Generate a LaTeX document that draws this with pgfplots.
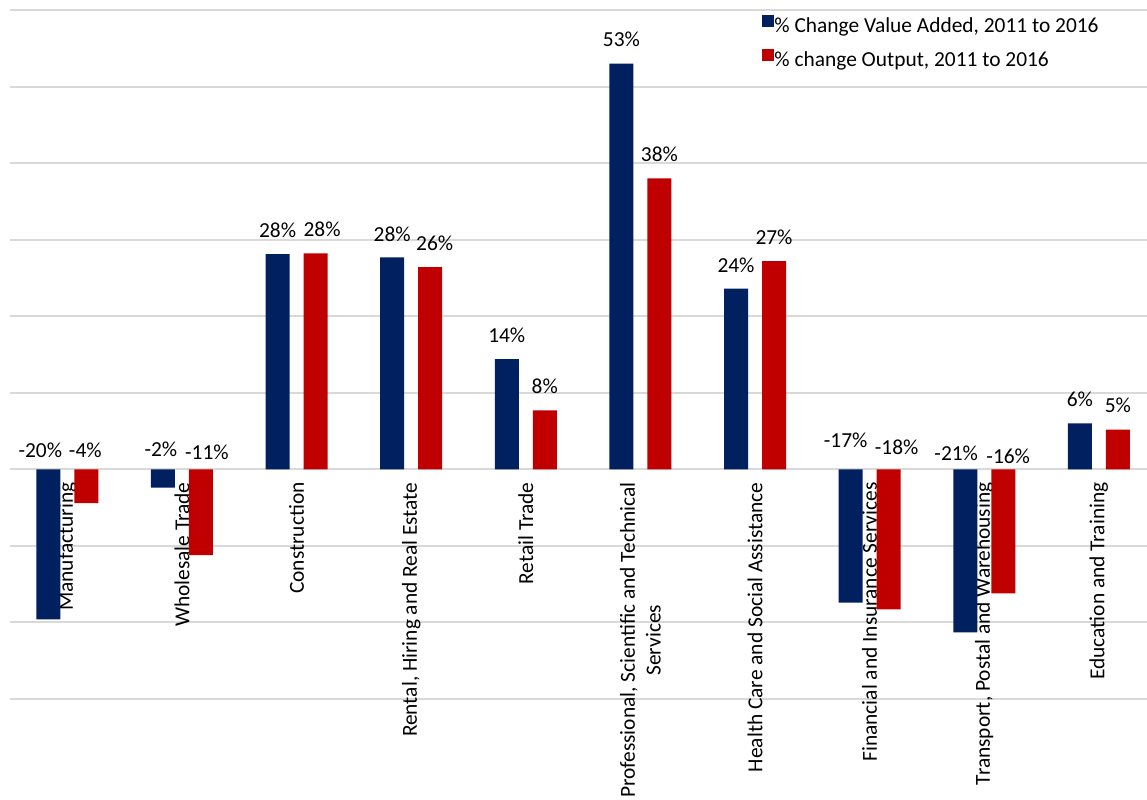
\documentclass[border=0pt]{standalone}
\usepackage{pgfplots}
\pgfplotsset{compat=1.18}
\usepackage{pgfplotstable}
\usepackage{fontspec}
\setmainfont{Carlito}
\definecolor{navy}{HTML}{002060}
\definecolor{crimson}{HTML}{C00000}
\definecolor{gridgray}{HTML}{D9D9D9}
\newcommand\lbl{\fontsize{10.7}{12.8}\selectfont}

% % change 2011 to 2016, by industry
% vlx/vly, olx/oly: label nudges in pt (as placed in the original)
\pgfplotstableread{
x va out vlx vly olx oly
0 -19.6 -4.4 -4 6 -0.5 6
1 -2.4 -11.2 -1 6.5 3 5
2 28.1 28.2 0 8.5 3.25 8.5
3 27.7 26.4 0 8 2.25 8.5
4 14.4 7.7 0 8.3 0 8.3
5 53.0 38.0 0 8.3 0 8.3
6 23.6 27.2 0 8.3 0 8.3
7 -17.4 -18.3 -2.5 11 4 7.5
8 -21.3 -16.2 -4.5 4.5 2.5 3
9 6.0 5.2 0 8.3 0 8.3
}\changes

\begin{document}
\begin{tikzpicture}
\begin{axis}[
    name=ax,
    scale only axis,
    width=568.5pt, height=344.5pt,
    ybar=7pt, bar width=12pt,
    xmin=-0.5, xmax=9.42,
    ymin=-30, ymax=60,
    ytick={-30,-20,...,60},
    yticklabels={},
    ymajorgrids,
    grid style={gridgray, line width=1pt},
    axis line style={draw=none},
    major tick length=0pt,
    xtick={0,...,9},
    xticklabels={Manufacturing, Wholesale Trade, Construction,
        {Rental, Hiring and Real Estate}, Retail Trade,
        {Professional, Scientific and Technical\\Services},
        Health Care and Social Assistance, Financial and Insurance Services,
        {Transport, Postal and Warehousing}, Education and Training},
    xticklabel style={yshift=111.8pt, rotate=90, anchor=east, align=center, font=\lbl},
    nodes near coords={\pgfmathprintnumber[fixed,precision=0,assume math mode=true]{\pgfplotspointmeta}\%},
    every node near coord/.append style={font=\lbl, text=black, anchor=base,
        xshift={\lx}, yshift={(\rawy<0) ? ((0-(\rawy))*3.8278+\ly) : \ly}},
    legend style={at={(0.6614,1)}, yshift=-2.25pt, anchor=north west, draw=none, fill=none,
        font=\lbl, inner sep=0pt, row sep=5.5pt,
        nodes={inner sep=0pt, text height=7.5pt, text depth=2.5pt},
        /tikz/every even column/.append style={column sep=1.5pt}},
    legend cell align=left,
    legend image code/.code={\fill[#1] (0pt,0.4pt) rectangle (6pt,6.4pt);},
]
\addplot[fill=navy, draw=none,
    visualization depends on={\thisrow{va} \as \rawy},
    visualization depends on={\thisrow{vlx} \as \lx},
    visualization depends on={\thisrow{vly} \as \ly}]
    table[x=x, y=va] {\changes};
\addplot[fill=crimson, draw=none,
    visualization depends on={\thisrow{out} \as \rawy},
    visualization depends on={\thisrow{olx} \as \lx},
    visualization depends on={\thisrow{oly} \as \ly}]
    table[x=x, y=out] {\changes};
\legend{\% Change Value Added{,} 2011 to 2016, \% change Output{,} 2011 to 2016}
\end{axis}
\pgfresetboundingbox
\path[use as bounding box] ([xshift=-5pt,yshift=-50.5pt]ax.south west) rectangle ([yshift=5pt]ax.north east);
\end{tikzpicture}
\end{document}
